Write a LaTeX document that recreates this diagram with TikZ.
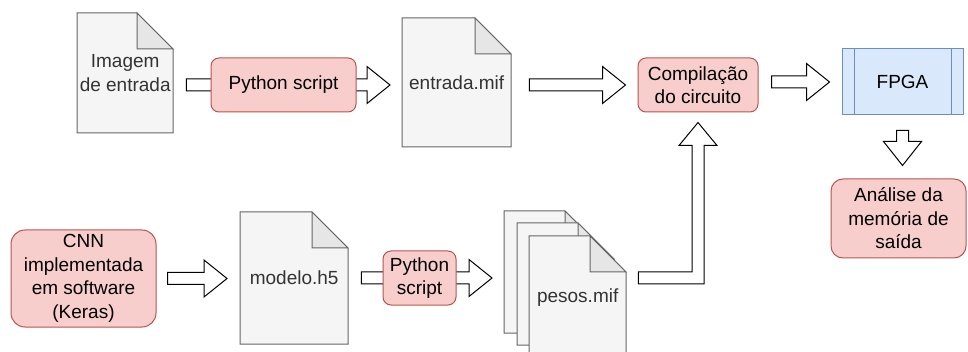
\documentclass[tikz,border=0pt]{standalone}
\usepackage{fontspec}
\setmainfont{Liberation Sans}
\usetikzlibrary{calc,backgrounds}

\definecolor{redfill}{HTML}{F8CECC}
\definecolor{redline}{HTML}{B85450}
\definecolor{bluefill}{HTML}{DAE8FC}
\definecolor{blueline}{HTML}{6C8EBF}
\definecolor{docfill}{HTML}{F5F5F5}
\definecolor{docline}{HTML}{666666}
\definecolor{docfold}{HTML}{E6E6E6}
\definecolor{doctext}{HTML}{333333}

\pgfdeclarelayer{paper}
\pgfsetlayers{paper,background,main}

\tikzset{
  every node/.style={font=\fontsize{19}{23.5}\selectfont, align=center, inner sep=0pt},
  redbox/.style={draw=redline, fill=redfill, line width=1pt, rounded corners=#1},
  redbox/.default=8pt,
  fpgabox/.style={draw=blueline, fill=bluefill, line width=1pt},
  docshape/.style={draw=docline, fill=docfill, line width=1pt, line join=miter},
  docfoldshape/.style={draw=docline, fill=docfold, line width=1pt},
  doclabel/.style={text=doctext},
  flexarrow/.style={draw=black, fill=white, line width=1pt, line join=miter},
}

% file icon with folded corner: name, left, top, width, height, label
\newcommand\docfile[6]{%
  \filldraw[docshape] (#2,#3) -- ++(#4-36,0) -- ++(36,36) -- (#2+#4,#3+#5) -- (#2,#3+#5) -- cycle;
  \filldraw[docfoldshape] (#2+#4-36,#3) -- ++(0,36) -- ++(36,0) -- cycle;
  \node[doclabel, minimum width=#4pt, minimum height=#5pt, anchor=north west] (#1) at (#2,#3) {#6};
}

% hollow block arrow pointing right: tail point, tip point
\newcommand\flexright[2]{%
  \draw[flexarrow] let \p1=(#1), \p2=(#2) in
    (\x1,\y1+6pt) -- (\x2-23pt,\y1+6pt) -- (\x2-23pt,\y1+18.5pt) -- (\x2,\y1)
    -- (\x2-23pt,\y1-18.5pt) -- (\x2-23pt,\y1-6pt) -- (\x1,\y1-6pt) -- cycle;
}
% hollow block arrow pointing down: tail point, tip point
\newcommand\flexdown[2]{%
  \draw[flexarrow] let \p1=(#1), \p2=(#2) in
    (\x1-6pt,\y1) -- (\x1-6pt,\y2+24pt) -- (\x1-19pt,\y2+24pt) -- (\x1,\y2)
    -- (\x1+19pt,\y2+24pt) -- (\x1+6pt,\y2+24pt) -- (\x1+6pt,\y1) -- cycle;
}

\begin{document}
\begin{tikzpicture}[x=1pt, y=-1pt]
\useasboundingbox (0,0) rectangle (968,352);
\begin{pgfonlayer}{paper}
\fill[white] (0,0) rectangle (968,352);
\end{pgfonlayer}

% files
\docfile{img}{77}{13}{96}{120}{Imagem\\de entrada}
\docfile{entr}{402}{18}{109}{129}{entrada.mif}
\docfile{modelo}{240}{212}{108}{132}{modelo.h5}
\docfile{pesosA}{504}{211}{97}{122}{}
\docfile{pesosB}{517}{223}{97}{122}{}
\docfile{pesosC}{529}{236}{97}{122}{pesos.mif}

% process boxes
\node[redbox, minimum width=145pt, minimum height=54pt] (py1) at (283.5,85) {Python script};
\node[redbox, minimum width=120pt, minimum height=54pt] (comp) at (698,85) {Compilação\\do circuito};
\node[fpgabox, minimum width=121pt, minimum height=66pt] (fpga) at (902.5,82) {FPGA};
\draw[blueline, line width=1pt] ([xshift=13pt]fpga.north west) -- ([xshift=13pt]fpga.south west);
\draw[blueline, line width=1pt] ([xshift=-12pt]fpga.north east) -- ([xshift=-12pt]fpga.south east);
\node[redbox=12pt, minimum width=135pt, minimum height=79pt] (anal) at (898.5,218.5) {Análise da\\memória de\\saída};
\node[redbox=14pt, minimum width=145pt, minimum height=97pt] (cnn) at (83.5,278.5) {CNN\\implementada\\em software\\(Keras)};
\node[redbox, minimum width=73pt, minimum height=54pt] (py2) at (419.5,278) {Python\\script};

% block arrows
\begin{pgfonlayer}{background}
\flexright{$(img.east|-py1.center)+(13,0)$}{$(entr.west|-py1.center)+(-12,0)$}
\flexright{$(entr.east|-comp.center)+(18,0)$}{$(comp.west)+(-12,0)$}
\flexright{$(comp.east|-fpga.center)+(13,0)$}{$(fpga.west)+(-12,0)$}
\flexdown{$(fpga.south)+(0,15)$}{$(fpga.south|-anal.north)+(0,-13)$}
\flexright{$(cnn.east)+(11,0)$}{$(modelo.west|-cnn.center)+(-13,0)$}
\flexright{$(modelo.east|-py2.center)+(13,0)$}{$(pesosA.west|-py2.center)+(-12,0)$}
\draw[flexarrow] let \p1=($(pesosC.east|-py2.center)+(12,0)$), \p2=($(comp.south)+(0,10)$) in
  (\x1,\y1+6pt) -- (\x2-6pt,\y1+6pt) -- (\x2-6pt,\y2-23pt) -- (\x2-19pt,\y2-23pt) -- (\x2,\y2)
  -- (\x2+19pt,\y2-23pt) -- (\x2+6pt,\y2-23pt) -- (\x2+6pt,\y1-6pt) -- (\x1,\y1-6pt) -- cycle;
\end{pgfonlayer}
\end{tikzpicture}
\end{document}
